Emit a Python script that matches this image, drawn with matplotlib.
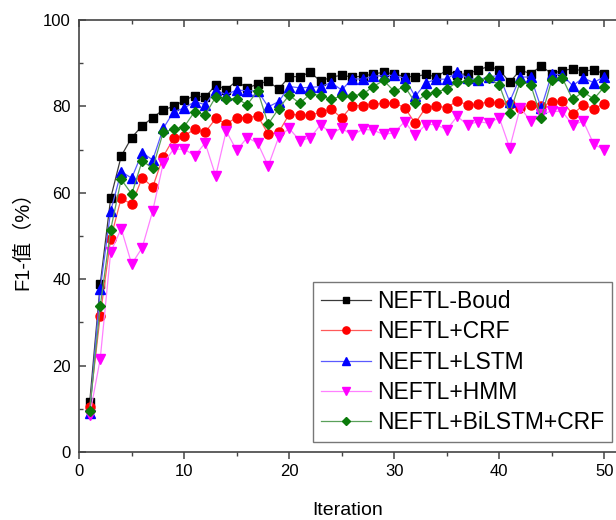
import matplotlib

matplotlib.use("Agg")
import matplotlib.pyplot as plt
from matplotlib.ticker import MultipleLocator

plt.rcParams["font.family"] = ["Liberation Sans", "Noto Sans CJK SC", "DejaVu Sans"]

iterations = list(range(1, 51))

boud = [11.5, 38.8, 58.8, 68.5, 72.8, 75.5, 77.4, 79.2, 80.0, 81.4,
        82.5, 82.1, 85.0, 83.9, 85.9, 84.2, 85.2, 85.8, 84.0, 86.9,
        86.9, 87.9, 85.8, 86.8, 87.2, 86.8, 87.0, 87.5, 87.9, 87.5,
        86.9, 86.9, 87.4, 86.8, 88.4, 87.3, 87.6, 88.4, 89.3, 88.5,
        85.6, 88.4, 87.6, 89.3, 87.6, 88.3, 88.7, 88.2, 88.4, 87.6]

crf = [10.5, 31.5, 49.4, 58.8, 57.3, 63.5, 61.3, 68.4, 72.6, 73.2,
       74.7, 74.0, 77.2, 76.0, 77.4, 77.4, 77.8, 73.6, 74.0, 78.2,
       78.0, 78.0, 78.6, 79.4, 77.3, 80.2, 80.2, 80.5, 80.7, 80.8,
       79.7, 76.1, 79.7, 80.1, 79.7, 81.3, 80.3, 80.5, 81.1, 80.7,
       80.5, 79.7, 80.4, 80.0, 81.0, 81.2, 78.2, 80.3, 79.5, 80.6]

lstm = [9.0, 37.7, 55.8, 64.9, 63.4, 69.3, 67.6, 74.9, 78.8, 79.6,
        81.1, 80.4, 83.8, 82.7, 83.8, 83.6, 83.6, 79.9, 81.1, 84.6,
        84.3, 84.4, 84.6, 85.5, 83.8, 86.4, 86.3, 87.0, 87.1, 87.2,
        86.5, 82.3, 85.4, 86.3, 86.3, 88.0, 86.5, 86.2, 86.8, 87.2,
        81.1, 86.8, 86.8, 79.6, 87.5, 87.3, 84.8, 86.6, 85.5, 86.9]

hmm = [8.5, 21.5, 46.3, 51.7, 43.5, 47.3, 55.8, 66.8, 70.1, 70.1,
       68.6, 71.5, 63.9, 74.3, 69.8, 72.8, 71.5, 66.2, 72.9, 74.9,
       72.1, 72.7, 75.8, 73.7, 75.0, 73.3, 74.7, 74.5, 73.5, 73.9,
       76.5, 73.3, 75.8, 75.8, 74.6, 77.7, 75.7, 76.5, 76.1, 77.4,
       70.4, 79.7, 76.6, 78.2, 78.9, 78.8, 75.7, 76.6, 71.3, 69.9]

bilstm_crf = [9.5, 33.7, 51.5, 63.1, 59.7, 67.4, 65.7, 74.0, 74.7, 75.3,
              78.8, 78.0, 82.2, 81.8, 81.8, 80.4, 83.6, 75.9, 79.5, 82.6,
              80.7, 82.9, 82.5, 81.6, 82.5, 82.5, 82.8, 84.6, 86.0, 83.5,
              84.6, 80.9, 82.8, 83.4, 84.0, 85.6, 85.9, 86.1, 86.5, 85.0,
              78.4, 85.7, 85.0, 77.4, 86.1, 86.6, 81.6, 83.4, 81.7, 84.5]

labels = ["NEFTL-Boud", "NEFTL+CRF", "NEFTL+LSTM", "NEFTL+HMM", "NEFTL+BiLSTM+CRF"]

# (marker colour, line colour, marker, size)
styles = [
    ("#000000", "#3a3a3a", "s", 6.0),
    ("#ff0000", "#ff5a5a", "o", 6.5),
    ("#0000ff", "#5a5aff", "^", 6.5),
    ("#ff00ff", "#ff80ff", "v", 6.5),
    ("#0a7a0a", "#5aa05a", "D", 5.5),
]

fig = plt.figure(figsize=(6.16, 5.2), dpi=100)
ax = fig.add_axes([79.2 / 616, 68 / 520, (616 - 79.2) / 616, 432 / 520])

for label, values, (mc, lc, marker, ms) in zip(labels, [boud, crf, lstm, hmm, bilstm_crf], styles):
    ax.plot(iterations, values, color=lc, lw=0.9, marker=marker, ms=ms,
            mfc=mc, mec=mc, label=label)

ax.set_xlim(0, (616 - 79.2) / 10.5)
ax.set_ylim(0, 100)
ax.xaxis.set_major_locator(MultipleLocator(10))
ax.xaxis.set_minor_locator(MultipleLocator(5))
ax.yaxis.set_major_locator(MultipleLocator(20))
ax.yaxis.set_minor_locator(MultipleLocator(10))

for side in ["left", "top", "bottom"]:
    ax.spines[side].set_color("#444444")
    ax.spines[side].set_linewidth(1.2)
ax.spines["right"].set_visible(False)

ax.tick_params(axis="y", which="both", direction="in", left=True, right=False,
               labelsize=12, pad=6, color="#444444")
ax.tick_params(axis="x", which="both", direction="out", bottom=True, top=False,
               labelsize=12, pad=4, color="#444444")
ax.tick_params(which="major", length=5, width=1.1)
ax.tick_params(which="minor", length=3, width=1.0)

# inward ticks along the top frame
top = ax.secondary_xaxis("top")
top.xaxis.set_major_locator(MultipleLocator(10))
top.xaxis.set_minor_locator(MultipleLocator(5))
top.tick_params(which="both", direction="in", labeltop=False, color="#444444")
top.tick_params(which="major", length=5, width=1.1)
top.tick_params(which="minor", length=3, width=1.0)
top.spines["top"].set_visible(False)

ax.set_xlabel("Iteration", fontsize=14, labelpad=16)
ax.set_ylabel("F1-值（%）", fontsize=14.5, labelpad=8,
              family=["Liberation Sans", "Noto Sans CJK SC"])

leg = ax.legend(loc="lower left", bbox_to_anchor=(0.435, 0.022), borderaxespad=0,
                fontsize=16.5, frameon=True, fancybox=False, framealpha=1,
                edgecolor="#777777", handlelength=2.2, handletextpad=0.25,
                labelspacing=0.32, borderpad=0.35, markerscale=0.8)
leg.get_frame().set_linewidth(1.0)

fig.savefig("out.png", dpi=100)
